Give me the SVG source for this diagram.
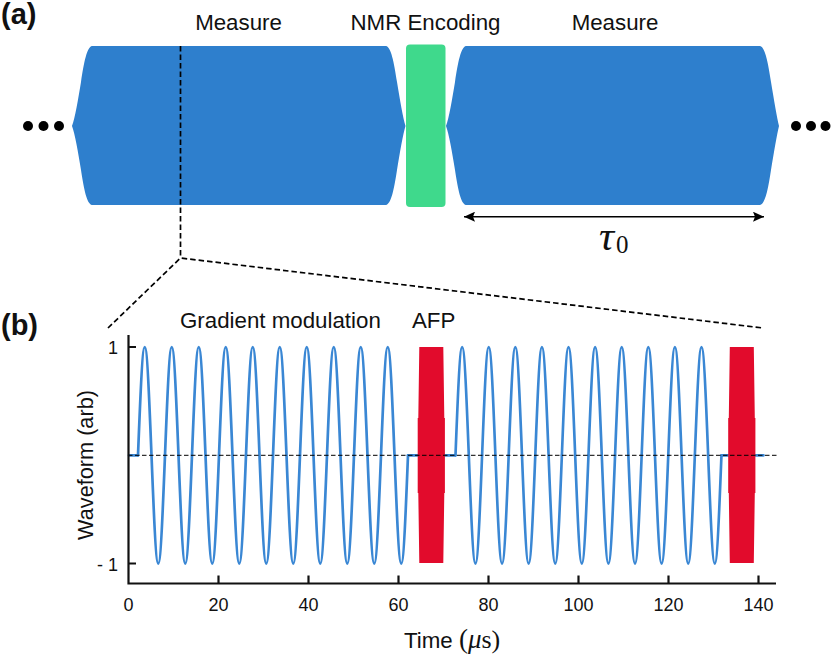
<svg xmlns="http://www.w3.org/2000/svg" xmlns:xlink="http://www.w3.org/1999/xlink" width="831" height="655" viewBox="0 0 831 655">
<style>
text{font-family:"Liberation Sans",Arial,sans-serif;fill:#111}
.lab{font-size:22.3px}
.tick{font-size:18px}
.pan{font-size:29px;font-weight:bold}
.math{font-family:"Liberation Serif","Times New Roman",serif}
.blue{fill:#2e7fcd}
.wave{fill:none;stroke:#3a87d4;stroke-width:2.7;stroke-linecap:round;stroke-linejoin:round}
.dash{fill:none;stroke:#000;stroke-width:1.7;stroke-dasharray:5.5 3}
.axis{fill:none;stroke:#111;stroke-width:2.2}
.afp{fill:#e20b2c}
</style>
<defs>
<marker id="arrow" markerUnits="userSpaceOnUse" markerWidth="12" markerHeight="10" refX="11" refY="5" orient="auto-start-reverse"><path d="M0,0 L11,5 L0,10 L2,5 Z" fill="#000"/></marker>
<path id="cycle" class="wave" d="M0,455.3 c2.2,-55.46 4.31,-108.25 6.75,-108.25 c2.44,0 4.55,52.79 6.75,108.25 c2.2,55.46 4.31,108.25 6.75,108.25 c2.44,0 4.55,-52.79 6.75,-108.25"/>
<g id="train">
<use xlink:href="#cycle" href="#cycle"/>
<use xlink:href="#cycle" href="#cycle" x="27"/>
<use xlink:href="#cycle" href="#cycle" x="54"/>
<use xlink:href="#cycle" href="#cycle" x="81"/>
<use xlink:href="#cycle" href="#cycle" x="108"/>
<use xlink:href="#cycle" href="#cycle" x="135"/>
<use xlink:href="#cycle" href="#cycle" x="162"/>
<use xlink:href="#cycle" href="#cycle" x="189"/>
<use xlink:href="#cycle" href="#cycle" x="216"/>
<use xlink:href="#cycle" href="#cycle" x="243"/>
</g>
<path id="afp" class="afp" d="M-12,347 H12 L13,418 H13.6 V493 H13 L12,563 H-12 L-13,493 H-13.6 V418 H-13 Z"/>
</defs>

<g id="panel-a-label"><text class="pan" x="1" y="24">(a)</text></g>
<g id="panel-b-label"><text class="pan" x="1" y="335">(b)</text></g>

<g id="dots-left" fill="#000"><circle cx="28" cy="126" r="5"/><circle cx="43.5" cy="126" r="5"/><circle cx="59" cy="126" r="5"/></g>
<g id="dots-right" fill="#000"><circle cx="796" cy="126" r="5"/><circle cx="811" cy="126" r="5"/><circle cx="825.5" cy="126" r="5"/></g>

<g id="measure-1">
<path class="blue" d="M72,126 C75,118 78,100 81,82 C84,62 87,47 92,46 H386 C391,47 394,62 397,82 C400,100 403,118 405.5,126 C403,134 400,152 397,170 C394,190 391,204 386,205 H92 C87,204 84,190 81,170 C78,152 75,134 72,126 Z"/>
<text class="lab" x="238.5" y="30" text-anchor="middle">Measure</text>
</g>
<g id="nmr-encoding">
<rect x="406" y="44.5" width="39.5" height="162.5" rx="4" fill="#3fd98c"/>
<text class="lab" x="425.5" y="30" text-anchor="middle">NMR Encoding</text>
</g>
<g id="measure-2">
<path class="blue" d="M446,126 C449,118 452,100 455,82 C458,62 461,47 466,46 H760 C765,47 768,62 771,82 C774,100 777,118 779,126 C777,134 774,152 771,170 C768,190 765,204 760,205 H466 C461,204 458,190 455,170 C452,152 449,134 446,126 Z"/>
<text class="lab" x="615" y="30" text-anchor="middle">Measure</text>
</g>

<g id="connectors">
<path class="dash" d="M180.5,46 V258"/>
<path class="dash" d="M108,328 L180.5,258 L763,328"/>
<path d="M464,216.7 H764" fill="none" stroke="#000" stroke-width="1.6" marker-start="url(#arrow)" marker-end="url(#arrow)"/>
</g>
<g id="tau-label"><text class="math" x="599" y="250" font-size="42" font-style="italic">τ</text><text class="math" x="616" y="253" font-size="25">0</text></g>

<g id="waveform-plot">
<use xlink:href="#train" href="#train" x="138"/>
<use xlink:href="#train" href="#train" transform="translate(455.5 0) scale(0.985 1)"/>
<path class="wave" d="M129,455.3 H138 M408,455.3 H420 M443,455.3 H455.5 M721.5,455.3 H732 M752,455.3 H763.5"/>
<use xlink:href="#afp" href="#afp" x="431.3"/>
<use xlink:href="#afp" href="#afp" x="741.8"/>
<path d="M128,455.3 H777" fill="none" stroke="#000" stroke-width="1" stroke-dasharray="4.5 2.5"/>
<path class="axis" d="M128.5,335 V583.5 H776 M128.5,347 H136 M128.5,563.5 H136 M218.5,583 V575.5 M308.5,583 V575.5 M398.5,583 V575.5 M488.5,583 V575.5 M578.5,583 V575.5 M668.5,583 V575.5 M758.5,583 V575.5"/>
<g class="tick" text-anchor="middle">
<text x="128.5" y="611">0</text><text x="218.5" y="611">20</text><text x="308.5" y="611">40</text><text x="398.5" y="611">60</text><text x="488.5" y="611">80</text><text x="578.5" y="611">100</text><text x="668.5" y="611">120</text><text x="758.5" y="611">140</text>
</g>
<text class="tick" x="118" y="354" text-anchor="end">1</text>
<text class="tick" x="118" y="571" text-anchor="end">- 1</text>
<text class="lab" transform="translate(93 465) rotate(-90)" text-anchor="middle" style="font-size:21.7px">Waveform (arb)</text>
<text class="lab" x="404" y="648">Time <tspan style="font-family:'Liberation Serif',serif;font-size:27px">(</tspan><tspan font-style="italic" style="font-family:'Liberation Serif',serif;font-size:27px">μ</tspan><tspan style="font-family:'Liberation Serif',serif;font-size:26px">s)</tspan></text>
<text class="lab" x="180" y="328">Gradient modulation</text>
<text class="lab" x="412" y="328">AFP</text>
</g>
</svg>
